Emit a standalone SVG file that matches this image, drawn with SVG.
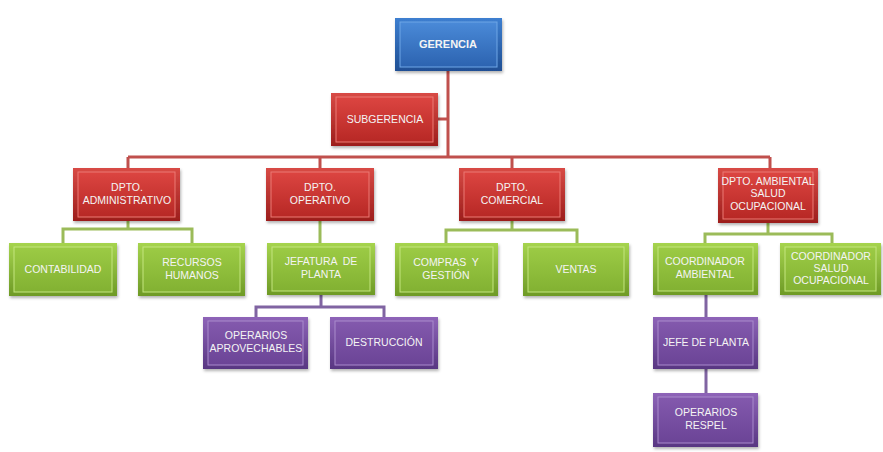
<svg xmlns="http://www.w3.org/2000/svg" width="883" height="452" viewBox="0 0 883 452">
  <defs>
    <linearGradient id="gBlueO" x1="0" y1="0" x2="0" y2="1">
      <stop offset="0" stop-color="#3d7fd0"/><stop offset="1" stop-color="#1f4f94"/>
    </linearGradient>
    <linearGradient id="gBlueI" x1="0" y1="0" x2="0" y2="1">
      <stop offset="0" stop-color="#4a8ad8"/><stop offset="1" stop-color="#2c63b0"/>
    </linearGradient>
    <linearGradient id="gRedO" x1="0" y1="0" x2="0" y2="1">
      <stop offset="0" stop-color="#d84a45"/><stop offset="1" stop-color="#9c1e1c"/>
    </linearGradient>
    <linearGradient id="gRedI" x1="0" y1="0" x2="0" y2="1">
      <stop offset="0" stop-color="#dc4541"/><stop offset="1" stop-color="#b72825"/>
    </linearGradient>
    <linearGradient id="gGreenO" x1="0" y1="0" x2="0" y2="1">
      <stop offset="0" stop-color="#a6d44e"/><stop offset="1" stop-color="#6e9a26"/>
    </linearGradient>
    <linearGradient id="gGreenI" x1="0" y1="0" x2="0" y2="1">
      <stop offset="0" stop-color="#9ccb45"/><stop offset="1" stop-color="#82b132"/>
    </linearGradient>
    <linearGradient id="gPurpleO" x1="0" y1="0" x2="0" y2="1">
      <stop offset="0" stop-color="#8e64b8"/><stop offset="1" stop-color="#583682"/>
    </linearGradient>
    <linearGradient id="gPurpleI" x1="0" y1="0" x2="0" y2="1">
      <stop offset="0" stop-color="#8359ad"/><stop offset="1" stop-color="#6b4496"/>
    </linearGradient>
    <filter id="shadow" x="-10%" y="-10%" width="130%" height="140%">
      <feDropShadow dx="1" dy="2" stdDeviation="1.5" flood-color="#000" flood-opacity="0.3"/>
    </filter>
  </defs>
  <style>
    .t { font-family: "Liberation Sans", Arial, sans-serif; font-size: 10.5px; fill: #f4f4f4; text-anchor: middle; }
    .tb { font-weight: bold; font-size: 11px; }
    .blue .o { fill: url(#gBlueO); }
    .blue .i { fill: url(#gBlueI); stroke: #6fa6e6; stroke-width: 1; }
    .red .o { fill: url(#gRedO); }
    .red .i { fill: url(#gRedI); stroke: #ec7a74; stroke-width: 1; }
    .green .o { fill: url(#gGreenO); }
    .green .i { fill: url(#gGreenI); stroke: #c3e57f; stroke-width: 1; }
    .purple .o { fill: url(#gPurpleO); }
    .purple .i { fill: url(#gPurpleI); stroke: #a98bcc; stroke-width: 1; }
    .o { filter: url(#shadow); }
    .cr { stroke: #c0504d; stroke-width: 3; fill: none; }
    .cg { stroke: #9bbb59; stroke-width: 3; fill: none; }
    .cp { stroke: #8064a2; stroke-width: 3; fill: none; }
  </style>

  <rect width="883" height="452" fill="#ffffff"/>

  <!-- connectors -->
  <g id="connectors">
    <path class="cr" d="M448,70 V157 M438,119 H448 M128,157 H770 M128,157 V168 M320,157 V168 M512,157 V168 M770,157 V168"/>
    <path class="cg" d="M128,220 V229 M63,243 V229 H192 V243"/>
    <path class="cg" d="M320,220 V243"/>
    <path class="cg" d="M512,220 V230 M446,243 V230 H577 V243"/>
    <path class="cg" d="M768,222 V234 M705,243 V234 H832 V243"/>
    <path class="cp" d="M321,295 V307 M256,317 V307 H384 V317"/>
    <path class="cp" d="M706,295 V317 M706,368 V393"/>
  </g>

  <!-- level 0 -->
  <g id="gerencia" class="blue">
    <rect class="o" x="395" y="18" width="107" height="53"/>
    <rect class="i" x="400" y="22" width="97" height="45"/>
    <text class="t tb" x="448" y="48">GERENCIA</text>
  </g>

  <g id="subgerencia" class="red">
    <rect class="o" x="331" y="93" width="107" height="53"/>
    <rect class="i" x="336" y="97" width="97" height="45"/>
    <text class="t" x="385" y="123">SUBGERENCIA</text>
  </g>

  <!-- departments -->
  <g id="dpto-administrativo" class="red">
    <rect class="o" x="73" y="168" width="107" height="53"/>
    <rect class="i" x="78" y="172" width="97" height="45"/>
    <text class="t" x="127" y="191">DPTO.</text>
    <text class="t" x="127" y="204">ADMINISTRATIVO</text>
  </g>

  <g id="dpto-operativo" class="red">
    <rect class="o" x="266" y="168" width="108" height="53"/>
    <rect class="i" x="271" y="172" width="98" height="45"/>
    <text class="t" x="320" y="191">DPTO.</text>
    <text class="t" x="320" y="204">OPERATIVO</text>
  </g>

  <g id="dpto-comercial" class="red">
    <rect class="o" x="459" y="168" width="106" height="53"/>
    <rect class="i" x="464" y="172" width="96" height="45"/>
    <text class="t" x="512" y="191">DPTO.</text>
    <text class="t" x="512" y="204">COMERCIAL</text>
  </g>

  <g id="dpto-ambiental" class="red">
    <rect class="o" x="718" y="168" width="100" height="55"/>
    <rect class="i" x="723" y="172" width="90" height="47"/>
    <text class="t" x="768" y="185">DPTO. AMBIENTAL</text>
    <text class="t" x="768" y="197">SALUD</text>
    <text class="t" x="768" y="210">OCUPACIONAL</text>
  </g>

  <!-- sections -->
  <g id="contabilidad" class="green">
    <rect class="o" x="9" y="243" width="108" height="53"/>
    <rect class="i" x="14" y="247" width="98" height="45"/>
    <text class="t" x="63" y="273">CONTABILIDAD</text>
  </g>

  <g id="recursos-humanos" class="green">
    <rect class="o" x="138" y="243" width="107" height="53"/>
    <rect class="i" x="143" y="247" width="97" height="45"/>
    <text class="t" x="192" y="266">RECURSOS</text>
    <text class="t" x="192" y="279">HUMANOS</text>
  </g>

  <g id="jefatura-planta" class="green">
    <rect class="o" x="267" y="243" width="108" height="52"/>
    <rect class="i" x="272" y="247" width="98" height="44"/>
    <text class="t" x="321" y="265" xml:space="preserve">JEFATURA  DE</text>
    <text class="t" x="321" y="278">PLANTA</text>
  </g>

  <g id="compras-gestion" class="green">
    <rect class="o" x="395" y="243" width="103" height="53"/>
    <rect class="i" x="400" y="247" width="93" height="45"/>
    <text class="t" x="446" y="266" xml:space="preserve">COMPRAS  Y</text>
    <text class="t" x="446" y="279">GESTIÓN</text>
  </g>

  <g id="ventas" class="green">
    <rect class="o" x="523" y="243" width="106" height="53"/>
    <rect class="i" x="528" y="247" width="96" height="45"/>
    <text class="t" x="576" y="273">VENTAS</text>
  </g>

  <g id="coordinador-ambiental" class="green">
    <rect class="o" x="653" y="243" width="105" height="52"/>
    <rect class="i" x="658" y="247" width="95" height="44"/>
    <text class="t" x="705" y="265">COORDINADOR</text>
    <text class="t" x="705" y="278">AMBIENTAL</text>
  </g>

  <g id="coordinador-salud" class="green">
    <rect class="o" x="780" y="243" width="101" height="52"/>
    <rect class="i" x="785" y="247" width="91" height="44"/>
    <text class="t" x="831" y="260">COORDINADOR</text>
    <text class="t" x="831" y="272">SALUD</text>
    <text class="t" x="831" y="284">OCUPACIONAL</text>
  </g>

  <!-- operations -->
  <g id="operarios-aprovechables" class="purple">
    <rect class="o" x="203" y="317" width="105" height="52"/>
    <rect class="i" x="208" y="321" width="95" height="44"/>
    <text class="t" x="256" y="339">OPERARIOS</text>
    <text class="t" x="256" y="352">APROVECHABLES</text>
  </g>

  <g id="destruccion" class="purple">
    <rect class="o" x="330" y="317" width="108" height="52"/>
    <rect class="i" x="335" y="321" width="98" height="44"/>
    <text class="t" x="384" y="346">DESTRUCCIÓN</text>
  </g>

  <g id="jefe-planta" class="purple">
    <rect class="o" x="653" y="317" width="105" height="52"/>
    <rect class="i" x="658" y="321" width="95" height="44"/>
    <text class="t" x="706" y="346">JEFE DE PLANTA</text>
  </g>

  <g id="operarios-respel" class="purple">
    <rect class="o" x="653" y="393" width="105" height="54"/>
    <rect class="i" x="658" y="397" width="95" height="46"/>
    <text class="t" x="706" y="416">OPERARIOS</text>
    <text class="t" x="706" y="429">RESPEL</text>
  </g>
</svg>
